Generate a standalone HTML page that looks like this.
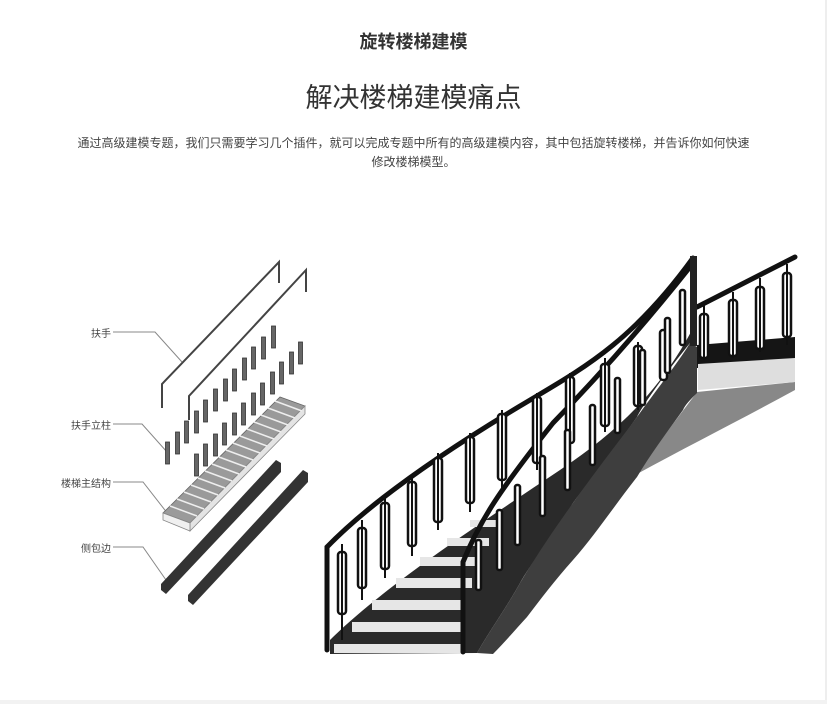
<!DOCTYPE html>
<html><head><meta charset="utf-8"><style>
html,body{margin:0;padding:0;background:#fff;}
body{width:827px;height:704px;position:relative;overflow:hidden;font-family:"Liberation Sans","Noto Sans CJK SC",sans-serif;color:#333;}
.t1{position:absolute;top:28px;left:0;width:827px;text-align:center;font-size:18px;font-weight:bold;color:#333;}
.t2{position:absolute;top:76px;left:0;width:827px;text-align:center;font-size:27px;color:#333;}
.p{position:absolute;top:134px;left:75px;width:677px;text-align:center;font-size:12px;line-height:19px;color:#444;}
.lb{position:absolute;font-size:10px;color:#444;text-align:right;width:60px;}
.rb{position:absolute;left:825px;top:0;width:2px;height:704px;background:#eee;}
.bb{position:absolute;left:0;top:700px;width:827px;height:4px;background:#f2f2f2;}
</style></head><body>
<div class="t1">旋转楼梯建模</div>
<div class="t2">解决楼梯建模痛点</div>
<div class="p">通过高级建模专题，我们只需要学习几个插件，就可以完成专题中所有的高级建模内容，其中包括旋转楼梯，并告诉你如何快速修改楼梯模型。</div>
<div class="lb" style="left:51px;top:325px">扶手</div>
<div class="lb" style="left:51px;top:417px">扶手立柱</div>
<div class="lb" style="left:51px;top:475px">楼梯主结构</div>
<div class="lb" style="left:51px;top:540px">侧包边</div>
<svg width="827" height="704" style="position:absolute;left:0;top:0">
<g fill="none" stroke="#888" stroke-width="1">
<polyline points="113,332 155,332 182,362"/>
<polyline points="113,424 142,424 167,452"/>
<polyline points="113,482 143,482 168,514"/>
<polyline points="113,547 143,547 166,580"/>
</g>
<g fill="none" stroke="#444" stroke-width="2">
<polyline points="162,408 162,384 279,262 279,283"/>
<polyline points="189,420 189,396 306,270 306,292"/>
</g>
<g fill="#666" stroke="#333" stroke-width="0.8">
<rect x="165.5" y="442" width="4" height="22"/><rect x="175.5" y="432" width="4" height="22"/><rect x="184.5" y="421" width="4" height="22"/><rect x="194.5" y="411" width="4" height="22"/><rect x="203.5" y="400" width="4" height="22"/><rect x="213.5" y="389" width="4" height="22"/><rect x="223.5" y="379" width="4" height="22"/><rect x="232.5" y="369" width="4" height="22"/><rect x="242.5" y="358" width="4" height="22"/><rect x="251.5" y="347" width="4" height="22"/><rect x="261.5" y="337" width="4" height="22"/><rect x="271.5" y="326" width="4" height="22"/>
<rect x="194.5" y="454" width="4" height="22"/><rect x="203.5" y="444" width="4" height="22"/><rect x="213.5" y="434" width="4" height="22"/><rect x="222.5" y="423" width="4" height="22"/><rect x="232.5" y="413" width="4" height="22"/><rect x="241.5" y="403" width="4" height="22"/><rect x="251.5" y="393" width="4" height="22"/><rect x="260.5" y="383" width="4" height="22"/><rect x="270.5" y="372" width="4" height="22"/><rect x="279.5" y="362" width="4" height="22"/><rect x="289.5" y="352" width="4" height="22"/><rect x="298.5" y="342" width="4" height="22"/>
</g>
<polygon points="163,513 190,523 305,406 280,397" fill="#9a9a9a" stroke="#666" stroke-width="0.8"/>
<polygon points="190,523 190,531 305,414 305,406" fill="#e4e4e4" stroke="#888" stroke-width="0.8"/>
<polygon points="163,513 163,520 190,531 190,523" fill="#f0f0f0" stroke="#888" stroke-width="0.8"/>
<g stroke="#eee" stroke-width="1.5">
<line x1="170" y1="506" x2="197" y2="516"/><line x1="177" y1="499" x2="204" y2="509"/><line x1="184" y1="492" x2="211" y2="502"/><line x1="191" y1="485" x2="218" y2="495"/><line x1="198" y1="478" x2="225" y2="488"/><line x1="205" y1="471" x2="232" y2="481"/><line x1="212" y1="464" x2="239" y2="474"/><line x1="219" y1="457" x2="246" y2="467"/><line x1="226" y1="450" x2="253" y2="460"/><line x1="233" y1="443" x2="260" y2="453"/><line x1="240" y1="436" x2="267" y2="446"/><line x1="247" y1="429" x2="274" y2="439"/><line x1="254" y1="422" x2="281" y2="432"/><line x1="261" y1="415" x2="288" y2="425"/><line x1="268" y1="408" x2="295" y2="418"/><line x1="275" y1="401" x2="302" y2="411"/>
</g>
<polygon points="161,584 276,460 281,463 281,472 166,594 161,590" fill="#333"/>
<polygon points="188,595 303,470 308,473 308,482 193,605 188,601" fill="#333"/>

<!-- spiral stair -->
<path d="M697,392 L795,382 L795,390 C740,420 690,445 637,474 C660,440 680,415 697,392 Z" fill="#888"/>
<polygon points="697,345 795,337 795,365 697,368" fill="#151515"/>
<polygon points="698,364 795,358 795,382 698,390" fill="#dedede"/>
<path d="M330,640 C380,590 470,530 560,470 C620,430 660,390 692,330 L690,343 C660,380 640,410 637,417 C610,455 590,480 573,503 C550,540 530,565 520,583 C505,610 490,630 477,653 L330,654 Z" fill="#2a2a2a"/>
<path d="M477,653 C490,630 505,610 520,583 C540,550 555,528 573,503 C600,465 620,440 637,417 C660,385 680,360 690,343 L697,347 L697,393 C690,400 685,405 683,410 C665,435 650,455 637,477 C615,505 595,535 573,560 C555,580 540,600 527,617 C515,630 505,642 493,654 Z" fill="#3e3e3e"/>
<g fill="#e6e6e6">
<rect x="334" y="644" width="128" height="9"/>
<rect x="352" y="622" width="110" height="10"/>
<rect x="372" y="600" width="92" height="10"/>
<rect x="396" y="578" width="76" height="10"/>
<rect x="420" y="557" width="60" height="9"/>
<rect x="447" y="538" width="42" height="8"/>
<rect x="470" y="520" width="30" height="7"/>
</g>
<g fill="none" stroke="#111" stroke-width="5" stroke-linecap="round">
<path d="M327,650 L327,547 C360,513 420,466 520,406 C580,370 630,345 693,258"/>
<path d="M463,652 L463,562 C480,520 500,490 553,423 C590,385 640,330 690,267"/>
<path d="M697,307 L795,257"/>
</g>
<rect x="690" y="256" width="7" height="90" fill="#222"/>
<g fill="#fff" stroke="#111" stroke-width="2.5">
<rect x="338" y="552" width="8" height="62" rx="3"/>
<rect x="358" y="528" width="8" height="60" rx="3"/>
<rect x="381" y="503" width="8" height="66" rx="3"/>
<rect x="408" y="482" width="8" height="64" rx="3"/>
<rect x="434" y="458" width="8" height="64" rx="3"/>
<rect x="466" y="437" width="8" height="66" rx="3"/>
<rect x="498" y="414" width="8" height="66" rx="3"/>
<rect x="533" y="397" width="8" height="66" rx="3"/>
<rect x="566" y="377" width="8" height="66" rx="3"/>
<rect x="601" y="364" width="8" height="62" rx="3"/>
<rect x="634" y="346" width="8" height="60" rx="3"/>
<rect x="660" y="330" width="7" height="50" rx="3"/>
<rect x="700" y="314" width="8" height="44" rx="3"/>
<rect x="729" y="300" width="8" height="56" rx="3"/>
<rect x="756" y="287" width="8" height="62" rx="3"/>
<rect x="783" y="273" width="8" height="64" rx="3"/>
<rect x="476" y="540" width="5" height="50" rx="2"/>
<rect x="497" y="510" width="5" height="60" rx="2"/>
<rect x="515" y="485" width="5" height="60" rx="2"/>
<rect x="540" y="456" width="5" height="60" rx="2"/>
<rect x="565" y="430" width="5" height="60" rx="2"/>
<rect x="590" y="405" width="5" height="60" rx="2"/>
<rect x="615" y="378" width="5" height="55" rx="2"/>
<rect x="640" y="350" width="5" height="55" rx="2"/>
<rect x="665" y="318" width="5" height="55" rx="2"/>
<rect x="680" y="290" width="5" height="55" rx="2"/>
</g>
<g stroke="#111" stroke-width="2">
<line x1="342" y1="544" x2="342" y2="640"/><line x1="362" y1="520" x2="362" y2="600"/><line x1="385" y1="497" x2="385" y2="578"/><line x1="412" y1="477" x2="412" y2="556"/><line x1="438" y1="453" x2="438" y2="530"/><line x1="470" y1="433" x2="470" y2="512"/><line x1="502" y1="410" x2="502" y2="488"/><line x1="537" y1="393" x2="537" y2="470"/><line x1="570" y1="373" x2="570" y2="450"/><line x1="605" y1="358" x2="605" y2="432"/><line x1="638" y1="342" x2="638" y2="410"/>
<line x1="704" y1="305" x2="704" y2="360"/><line x1="733" y1="292" x2="733" y2="358"/><line x1="760" y1="278" x2="760" y2="352"/><line x1="787" y1="264" x2="787" y2="345"/>
</g>
</svg>
<div class="rb"></div><div class="bb"></div>
</body></html>
